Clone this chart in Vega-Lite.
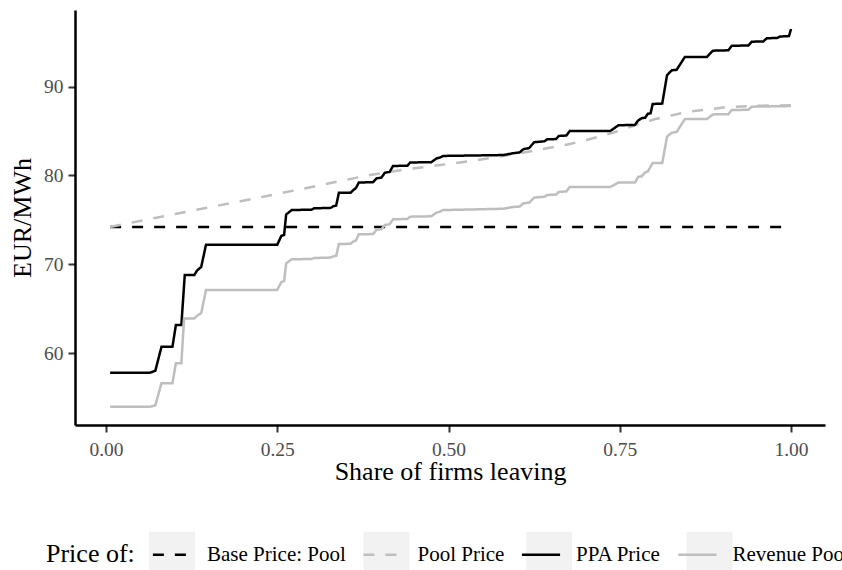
{
  "$schema": "https://vega.github.io/schema/vega-lite/v6.json",
  "autosize": "none",
  "width": 750,
  "height": 415,
  "padding": {"left": 75, "top": 10, "right": 17, "bottom": 145},
  "background": "white",
  "config": {
    "view": {"stroke": null},
    "font": "Liberation Serif",
    "axis": {
      "grid": false,
      "domainColor": "#000000",
      "domainWidth": 2.5,
      "tickColor": "#333333",
      "tickWidth": 2,
      "tickSize": 7,
      "labelFont": "Liberation Serif",
      "labelFontSize": 19.5,
      "labelColor": "#4d4d4d",
      "titleFont": "Liberation Serif",
      "titleFontSize": 26,
      "titleFontWeight": "normal",
      "titleColor": "#000000"
    },
    "legend": {
      "orient": "none",
      "legendX": -29,
      "legendY": 520,
      "direction": "horizontal",
      "titleOrient": "left",
      "titleAnchor": "middle",
      "titleBaseline": "line-top",
      "titleLineHeight": 14,
      "titleFont": "Liberation Serif",
      "titleFontSize": 26,
      "titleFontWeight": "normal",
      "titleColor": "#000000",
      "titlePadding": 12.5,
      "labelFont": "Liberation Serif",
      "labelFontSize": 21,
      "labelFontWeight": "normal",
      "labelColor": "#000000",
      "labelOffset": 10.5,
      "columnPadding": 11.5,
      "padding": 0,
      "symbolSize": 2116,
      "symbolStrokeWidth": 2.5,
      "labelLimit": 400
    }
  },
  "datasets": {
    "lines": [
      {"series": "Base Price: Pool", "share": 0.006, "price": 74.2},
      {"series": "Base Price: Pool", "share": 1.0, "price": 74.2},

      {"series": "Pool Price", "share": 0.006, "price": 74.2},
      {"series": "Pool Price", "share": 0.1, "price": 75.65},
      {"series": "Pool Price", "share": 0.2, "price": 77.15},
      {"series": "Pool Price", "share": 0.3, "price": 78.7},
      {"series": "Pool Price", "share": 0.385, "price": 80.05},
      {"series": "Pool Price", "share": 0.439, "price": 80.7},
      {"series": "Pool Price", "share": 0.531, "price": 81.6},
      {"series": "Pool Price", "share": 0.604, "price": 82.5},
      {"series": "Pool Price", "share": 0.677, "price": 83.55},
      {"series": "Pool Price", "share": 0.704, "price": 84.05},
      {"series": "Pool Price", "share": 0.74, "price": 84.8},
      {"series": "Pool Price", "share": 0.77, "price": 85.6},
      {"series": "Pool Price", "share": 0.804, "price": 86.4},
      {"series": "Pool Price", "share": 0.848, "price": 87.15},
      {"series": "Pool Price", "share": 0.901, "price": 87.65},
      {"series": "Pool Price", "share": 0.945, "price": 87.85},
      {"series": "Pool Price", "share": 1.0, "price": 87.9},

      {"series": "PPA Price", "share": 0.006, "price": 57.78},
      {"series": "PPA Price", "share": 0.064, "price": 57.78},
      {"series": "PPA Price", "share": 0.072, "price": 58.0},
      {"series": "PPA Price", "share": 0.081, "price": 60.7},
      {"series": "PPA Price", "share": 0.097, "price": 60.7},
      {"series": "PPA Price", "share": 0.102, "price": 63.15},
      {"series": "PPA Price", "share": 0.11, "price": 63.15},
      {"series": "PPA Price", "share": 0.115, "price": 68.8},
      {"series": "PPA Price", "share": 0.129, "price": 68.8},
      {"series": "PPA Price", "share": 0.133, "price": 69.3},
      {"series": "PPA Price", "share": 0.139, "price": 69.7},
      {"series": "PPA Price", "share": 0.146, "price": 72.2},
      {"series": "PPA Price", "share": 0.25, "price": 72.2},
      {"series": "PPA Price", "share": 0.256, "price": 73.2},
      {"series": "PPA Price", "share": 0.26, "price": 73.3},
      {"series": "PPA Price", "share": 0.263, "price": 75.6},
      {"series": "PPA Price", "share": 0.271, "price": 76.1},
      {"series": "PPA Price", "share": 0.3, "price": 76.15},
      {"series": "PPA Price", "share": 0.304, "price": 76.3},
      {"series": "PPA Price", "share": 0.328, "price": 76.35},
      {"series": "PPA Price", "share": 0.332, "price": 76.55},
      {"series": "PPA Price", "share": 0.336, "price": 76.6},
      {"series": "PPA Price", "share": 0.34, "price": 78.05},
      {"series": "PPA Price", "share": 0.357, "price": 78.05},
      {"series": "PPA Price", "share": 0.361, "price": 78.35},
      {"series": "PPA Price", "share": 0.365, "price": 78.6},
      {"series": "PPA Price", "share": 0.369, "price": 79.2},
      {"series": "PPA Price", "share": 0.39, "price": 79.25},
      {"series": "PPA Price", "share": 0.395, "price": 79.68},
      {"series": "PPA Price", "share": 0.402, "price": 79.75},
      {"series": "PPA Price", "share": 0.407, "price": 80.31},
      {"series": "PPA Price", "share": 0.414, "price": 80.4},
      {"series": "PPA Price", "share": 0.419, "price": 81.07},
      {"series": "PPA Price", "share": 0.44, "price": 81.1},
      {"series": "PPA Price", "share": 0.444, "price": 81.46},
      {"series": "PPA Price", "share": 0.475, "price": 81.5},
      {"series": "PPA Price", "share": 0.482, "price": 81.9},
      {"series": "PPA Price", "share": 0.487, "price": 82.0},
      {"series": "PPA Price", "share": 0.492, "price": 82.2},
      {"series": "PPA Price", "share": 0.58, "price": 82.3},
      {"series": "PPA Price", "share": 0.594, "price": 82.5},
      {"series": "PPA Price", "share": 0.604, "price": 82.6},
      {"series": "PPA Price", "share": 0.609, "price": 82.95},
      {"series": "PPA Price", "share": 0.618, "price": 83.1},
      {"series": "PPA Price", "share": 0.625, "price": 83.75},
      {"series": "PPA Price", "share": 0.64, "price": 83.85},
      {"series": "PPA Price", "share": 0.644, "price": 84.07},
      {"series": "PPA Price", "share": 0.657, "price": 84.1},
      {"series": "PPA Price", "share": 0.661, "price": 84.45},
      {"series": "PPA Price", "share": 0.672, "price": 84.5},
      {"series": "PPA Price", "share": 0.677, "price": 85.0},
      {"series": "PPA Price", "share": 0.736, "price": 85.0},
      {"series": "PPA Price", "share": 0.748, "price": 85.65},
      {"series": "PPA Price", "share": 0.772, "price": 85.7},
      {"series": "PPA Price", "share": 0.777, "price": 86.2},
      {"series": "PPA Price", "share": 0.782, "price": 86.45},
      {"series": "PPA Price", "share": 0.787, "price": 86.5},
      {"series": "PPA Price", "share": 0.791, "price": 86.95},
      {"series": "PPA Price", "share": 0.795, "price": 87.0},
      {"series": "PPA Price", "share": 0.798, "price": 88.05},
      {"series": "PPA Price", "share": 0.812, "price": 88.1},
      {"series": "PPA Price", "share": 0.819, "price": 91.3},
      {"series": "PPA Price", "share": 0.826, "price": 91.85},
      {"series": "PPA Price", "share": 0.833, "price": 91.9},
      {"series": "PPA Price", "share": 0.845, "price": 93.35},
      {"series": "PPA Price", "share": 0.877, "price": 93.35},
      {"series": "PPA Price", "share": 0.886, "price": 94.06},
      {"series": "PPA Price", "share": 0.9085, "price": 94.1},
      {"series": "PPA Price", "share": 0.9134, "price": 94.6},
      {"series": "PPA Price", "share": 0.9377, "price": 94.65},
      {"series": "PPA Price", "share": 0.9426, "price": 95.07},
      {"series": "PPA Price", "share": 0.9596, "price": 95.1},
      {"series": "PPA Price", "share": 0.9645, "price": 95.45},
      {"series": "PPA Price", "share": 0.98, "price": 95.5},
      {"series": "PPA Price", "share": 0.984, "price": 95.65},
      {"series": "PPA Price", "share": 0.997, "price": 95.7},
      {"series": "PPA Price", "share": 1.0, "price": 96.5},

      {"series": "Revenue Pool", "share": 0.006, "price": 53.95},
      {"series": "Revenue Pool", "share": 0.064, "price": 53.95},
      {"series": "Revenue Pool", "share": 0.072, "price": 54.1},
      {"series": "Revenue Pool", "share": 0.081, "price": 56.6},
      {"series": "Revenue Pool", "share": 0.097, "price": 56.6},
      {"series": "Revenue Pool", "share": 0.102, "price": 58.85},
      {"series": "Revenue Pool", "share": 0.11, "price": 58.85},
      {"series": "Revenue Pool", "share": 0.114, "price": 63.9},
      {"series": "Revenue Pool", "share": 0.129, "price": 63.9},
      {"series": "Revenue Pool", "share": 0.133, "price": 64.2},
      {"series": "Revenue Pool", "share": 0.139, "price": 64.5},
      {"series": "Revenue Pool", "share": 0.146, "price": 67.1},
      {"series": "Revenue Pool", "share": 0.25, "price": 67.1},
      {"series": "Revenue Pool", "share": 0.256, "price": 68.0},
      {"series": "Revenue Pool", "share": 0.26, "price": 68.1},
      {"series": "Revenue Pool", "share": 0.263, "price": 70.1},
      {"series": "Revenue Pool", "share": 0.271, "price": 70.55},
      {"series": "Revenue Pool", "share": 0.3, "price": 70.6},
      {"series": "Revenue Pool", "share": 0.304, "price": 70.7},
      {"series": "Revenue Pool", "share": 0.328, "price": 70.75},
      {"series": "Revenue Pool", "share": 0.332, "price": 70.9},
      {"series": "Revenue Pool", "share": 0.336, "price": 70.95},
      {"series": "Revenue Pool", "share": 0.34, "price": 72.28},
      {"series": "Revenue Pool", "share": 0.357, "price": 72.3},
      {"series": "Revenue Pool", "share": 0.361, "price": 72.55},
      {"series": "Revenue Pool", "share": 0.365, "price": 72.7},
      {"series": "Revenue Pool", "share": 0.369, "price": 73.37},
      {"series": "Revenue Pool", "share": 0.39, "price": 73.4},
      {"series": "Revenue Pool", "share": 0.395, "price": 73.9},
      {"series": "Revenue Pool", "share": 0.402, "price": 73.95},
      {"series": "Revenue Pool", "share": 0.407, "price": 74.42},
      {"series": "Revenue Pool", "share": 0.414, "price": 74.5},
      {"series": "Revenue Pool", "share": 0.419, "price": 75.06},
      {"series": "Revenue Pool", "share": 0.44, "price": 75.1},
      {"series": "Revenue Pool", "share": 0.444, "price": 75.36},
      {"series": "Revenue Pool", "share": 0.475, "price": 75.4},
      {"series": "Revenue Pool", "share": 0.482, "price": 75.8},
      {"series": "Revenue Pool", "share": 0.487, "price": 75.9},
      {"series": "Revenue Pool", "share": 0.492, "price": 76.1},
      {"series": "Revenue Pool", "share": 0.58, "price": 76.25},
      {"series": "Revenue Pool", "share": 0.594, "price": 76.45},
      {"series": "Revenue Pool", "share": 0.604, "price": 76.5},
      {"series": "Revenue Pool", "share": 0.609, "price": 76.85},
      {"series": "Revenue Pool", "share": 0.618, "price": 76.95},
      {"series": "Revenue Pool", "share": 0.625, "price": 77.5},
      {"series": "Revenue Pool", "share": 0.64, "price": 77.6},
      {"series": "Revenue Pool", "share": 0.644, "price": 77.8},
      {"series": "Revenue Pool", "share": 0.657, "price": 77.85},
      {"series": "Revenue Pool", "share": 0.661, "price": 78.15},
      {"series": "Revenue Pool", "share": 0.672, "price": 78.2},
      {"series": "Revenue Pool", "share": 0.677, "price": 78.7},
      {"series": "Revenue Pool", "share": 0.736, "price": 78.7},
      {"series": "Revenue Pool", "share": 0.748, "price": 79.2},
      {"series": "Revenue Pool", "share": 0.772, "price": 79.2},
      {"series": "Revenue Pool", "share": 0.777, "price": 79.85},
      {"series": "Revenue Pool", "share": 0.782, "price": 79.9},
      {"series": "Revenue Pool", "share": 0.787, "price": 80.35},
      {"series": "Revenue Pool", "share": 0.791, "price": 80.45},
      {"series": "Revenue Pool", "share": 0.795, "price": 81.0},
      {"series": "Revenue Pool", "share": 0.798, "price": 81.4},
      {"series": "Revenue Pool", "share": 0.812, "price": 81.4},
      {"series": "Revenue Pool", "share": 0.819, "price": 84.37},
      {"series": "Revenue Pool", "share": 0.826, "price": 84.82},
      {"series": "Revenue Pool", "share": 0.833, "price": 84.9},
      {"series": "Revenue Pool", "share": 0.845, "price": 86.35},
      {"series": "Revenue Pool", "share": 0.877, "price": 86.35},
      {"series": "Revenue Pool", "share": 0.886, "price": 86.88},
      {"series": "Revenue Pool", "share": 0.9085, "price": 86.9},
      {"series": "Revenue Pool", "share": 0.9134, "price": 87.37},
      {"series": "Revenue Pool", "share": 0.9377, "price": 87.4},
      {"series": "Revenue Pool", "share": 0.9426, "price": 87.75},
      {"series": "Revenue Pool", "share": 1.0, "price": 87.82}
    ]
  },
  "layer": [
    {
      "data": {"values": []},
      "mark": {"type": "square", "opacity": 1, "size": 0},
      "encoding": {
        "fill": {
          "field": "key",
          "type": "nominal",
          "scale": {
            "domain": ["1 Base Price: Pool", "2 Pool Price", "3 PPA Price", "4 Revenue Pool"],
            "range": ["#f2f2f2", "#f2f2f2", "#f2f2f2", "#f2f2f2"]
          },
          "legend": {
            "title": "Price of:",
            "titleOpacity": 0,
            "labelOpacity": 0,
            "labelExpr": "slice(datum.label, 2)",
            "symbolType": "square",
            "symbolStrokeColor": "transparent",
            "symbolOpacity": 1,
            "zindex": 0
          }
        }
      }
    },
    {
      "data": {"name": "lines"},
      "mark": {"type": "line", "strokeWidth": 2.5, "strokeCap": "butt", "interpolate": "linear"},
      "encoding": {
        "x": {
          "field": "share",
          "type": "quantitative",
          "scale": {"domain": [-0.04526, 1.0496], "nice": false, "zero": false},
          "axis": {
            "title": "Share of firms leaving",
            "values": [0, 0.25, 0.5, 0.75, 1],
            "format": ".2f",
            "labelPadding": 8,
            "titlePadding": 0
          }
        },
        "y": {
          "field": "price",
          "type": "quantitative",
          "scale": {"domain": [51.89, 98.64], "nice": false, "zero": false},
          "axis": {
            "title": "EUR/MWh",
            "values": [60, 70, 80, 90],
            "format": "d",
            "labelPadding": 5,
            "titlePadding": 8
          }
        },
        "stroke": {
          "field": "series",
          "type": "nominal",
          "scale": {
            "domain": ["Base Price: Pool", "Pool Price", "PPA Price", "Revenue Pool"],
            "range": ["#000000", "#bebebe", "#000000", "#bebebe"]
          },
          "legend": {
            "title": "Price of:",
            "symbolType": "M-0.83,0H0.83",
            "symbolOpacity": 1,
            "zindex": 1
          }
        },
        "strokeDash": {
          "field": "series",
          "type": "nominal",
          "scale": {
            "domain": ["Base Price: Pool", "Pool Price", "PPA Price", "Revenue Pool"],
            "range": [[11, 11], [11, 11], [1, 0], [1, 0]]
          },
          "legend": {
            "title": "Price of:",
            "symbolType": "M-0.83,0H0.83",
            "symbolOpacity": 1,
            "zindex": 1
          }
        }
      }
    }
  ]
}
